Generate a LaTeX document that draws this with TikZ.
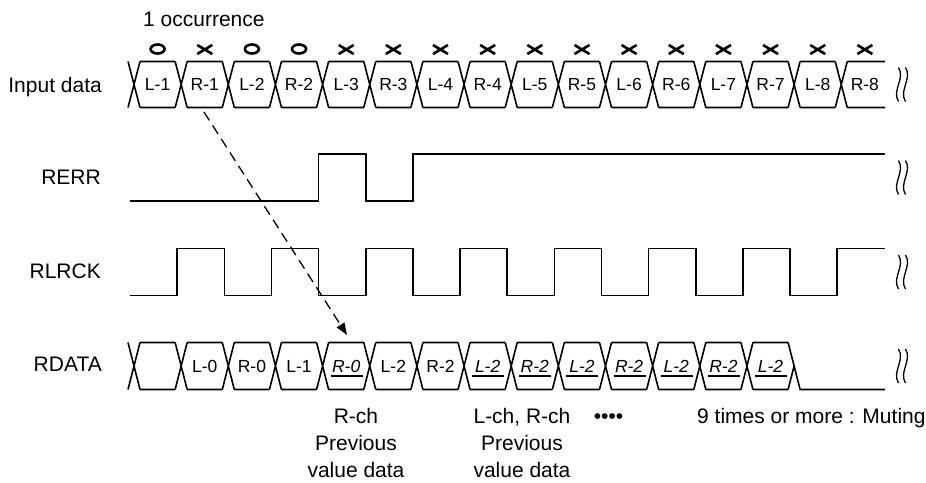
\documentclass[tikz,border=0pt]{standalone}
\usepackage{fontspec}
\setmainfont{Liberation Sans}
\usetikzlibrary{arrows.meta, positioning}

\begin{document}
\begin{tikzpicture}[x=1pt, y=-1pt,
    sig/.style={line width=1.6pt},
    signame/.style={font=\fontsize{21}{27}\selectfont, inner sep=0pt, anchor=base east},
    txt/.style={font=\fontsize{21}{27}\selectfont, inner sep=0pt},
    cell/.style={font=\fontsize{17.5}{20}\selectfont, inner sep=0pt},
    prev/.style={font=\fontsize{17.5}{20}\selectfont\itshape, inner sep=0pt}]

    \useasboundingbox (0,0) rectangle (926,482);

    % Signal names
    \node[signame] (lin) at (102,92) {Input data};
    \node[signame] (lrerr) at (101,184) {RERR};
    \node[signame] (lrlrck) at (101,278.5) {RLRCK};
    \node[signame] (lrdata) at (102,371) {RDATA};

    % Top note
    \node[txt, anchor=base west] (occ) at (143,26.7) {1 occurrence};

    % Input data
    \foreach \k/\lab/\m in {0/L-1/o,1/R-1/x,2/L-2/o,3/R-2/o,4/L-3/x,5/R-3/x,6/L-4/x,7/R-4/x,
                          8/L-5/x,9/R-5/x,10/L-6/x,11/R-6/x,12/L-7/x,13/R-7/x,14/L-8/x,15/R-8/x}{
        \pgfmathsetmacro\cx{130+47.15*\k}
        \pgfmathsetmacro\endx{\k<15 ? \cx+45.15 : 885}
        \draw[sig] (\cx-2,61.5) -- (\cx+10,107.5) (\cx-2,107.5) -- (\cx+10,61.5)
            (\cx+10,61.5) -- (\endx,61.5) (\cx+10,107.5) -- (\endx,107.5);
        \node[cell] (in\k) at (\cx+27.6,84.5) {\lab};
        \if\m o
            \draw[line width=2.6pt] (\cx+27.6,49) ellipse [x radius=7pt, y radius=4.5pt];
        \else
            \draw[line width=2.6pt] (\cx+20.1,45) -- (\cx+35.1,54) (\cx+20.1,54) -- (\cx+35.1,45);
        \fi
    }

    % RERR
    \draw[sig] (130,201) -| (318.6,154) -| (365.75,201) -| (412.9,154) -- (885,154);

    % RLRCK
    \draw[sig] (130,295.5) \foreach \k in {1,...,15}{
        -| ({130+47.15*\k},{isodd(\k) ? 248.5 : 295.5})} -- (885,248.5);

    % RDATA
    \foreach \k in {0,...,13}{
        \pgfmathsetmacro\cx{130+47.15*\k}
        \draw[sig] (\cx-2,342.5) -- (\cx+10,389.5) (\cx-2,389.5) -- (\cx+10,342.5)
            (\cx+10,342.5) -- (\cx+45.15,342.5) (\cx+10,389.5) -- (\cx+45.15,389.5);
    }
    \draw[sig] (788.1,342.5) -- (800.1,389.5) -- (885,389.5) (788.1,389.5) -- (794.1,366);
    \foreach \k/\lab in {1/L-0,2/R-0,3/L-1,5/L-2,6/R-2}
        \node[cell] (d\k) at ({157.6+47.15*\k},366) {\lab};
    \foreach \k/\lab in {4/R-0,7/L-2,8/R-2,9/L-2,10/R-2,11/L-2,12/R-2,13/L-2}{
        \node[prev] (d\k) at ({157.6+47.15*\k},366) {\lab};
        \draw[line width=1.3pt] ({142+47.15*\k},376) -- ({174+47.15*\k},376);
    }

    % Break marks
    \foreach \yy in {84.5,177.5,272,366}
        \foreach \xx in {898.5,905.5}
            \draw[line width=1.3pt] (\xx,\yy-17) .. controls (\xx+7,\yy-6) and (\xx-7,\yy+6) .. (\xx,\yy+17);

    % Arrow
    \coordinate (afrom) at (204,112);
    \coordinate (ato) at (347,335);
    \draw[line width=1.3pt, dash pattern=on 10pt off 6pt, -{Triangle[length=12pt,width=9pt]}] (afrom) -- (ato);

    % Notes under RDATA
    \node[txt, align=center, anchor=base] (nrch) at (356,477) {R-ch\\Previous\\value data};
    \node[txt, align=center, anchor=base] (nlrch) at (522,477) {L-ch, R-ch\\Previous\\value data};
    \node[txt, anchor=base] (ndots) at (608.5,423) {••••};
    \node[txt, anchor=base west] (nmute) at (697,423) {9 times or more : Muting};
\end{tikzpicture}
\end{document}
